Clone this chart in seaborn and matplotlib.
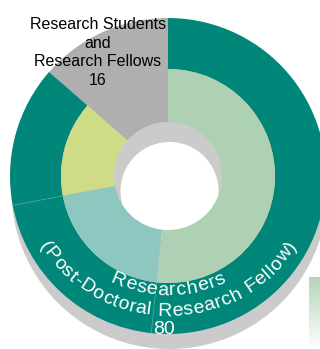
import numpy as np
import matplotlib
matplotlib.use("Agg")
import matplotlib.pyplot as plt
import seaborn as sns
from matplotlib import font_manager as fm
from matplotlib.font_manager import FontProperties, get_font, findfont
from matplotlib.colors import LinearSegmentedColormap

# ---------------- data ----------------
group_labels = ["Research Students\nand\nResearch Fellows", "Researchers", "(Post-Doctoral Research Fellow)"]
group_counts = [16, 80]
# inner ring segments, counter-clockwise from 12 o'clock
segment_values = [16, 17, 24, 61]
segment_group = [0, 1, 1, 1]
segment_colors = ["#AFAFAF", "#CFDC86", "#8EC6C0", "#AED1B4"]
group_colors = ["#AFAFAF", "#00877A"]
shadow_color = "#CBCBCB"

# ---------------- style ----------------
sns.set_theme(style="white")
names = {f.name for f in fm.fontManager.ttflist}
narrow = "Liberation Sans Narrow" if "Liberation Sans Narrow" in names else "Liberation Sans"
plt.rcParams['font.family'] = ['Liberation Sans', 'DejaVu Sans']

W, H = 320, 349
DPI = 100
fig = plt.figure(figsize=(W / DPI, H / DPI), dpi=DPI)
ax = fig.add_axes([0, 0, 1, 1])

cx, cy = 168, H - 176
R_out, R_mid, R_in = 158, 107, 54
total = sum(segment_values)

# drop shadow
ax.pie([total], colors=[shadow_color], radius=R_out, center=(cx + 1.5, cy - 15),
       startangle=90, wedgeprops=dict(width=R_out - 49, linewidth=0))
# outer ring (groups)
outer_colors = [group_colors[g] for g in segment_group]
ax.pie(segment_values, colors=outer_colors, radius=R_out, center=(cx, cy),
       startangle=90, wedgeprops=dict(width=R_out - R_mid, linewidth=0))
# inner ring (segments)
ax.pie(segment_values, colors=segment_colors, radius=R_mid, center=(cx, cy),
       startangle=90, wedgeprops=dict(width=R_mid - R_in, linewidth=0))

# faint boundaries between segments of the same group in the outer ring
cum = np.cumsum(segment_values)
for i in range(len(segment_values) - 1):
    if segment_group[i] == segment_group[i + 1]:
        th = np.deg2rad(90 + 360 * cum[i] / total)
        ax.plot([cx + R_mid * np.cos(th), cx + R_out * np.cos(th)],
                [cy + R_mid * np.sin(th), cy + R_out * np.sin(th)],
                color="#4FA89C", lw=0.6, alpha=0.8, zorder=3)


# ---------------- curved text ----------------
def advances(s, family, size_pt):
    prop = FontProperties(family=family, size=size_pt)
    font = get_font(findfont(prop))
    font.set_size(size_pt, DPI)
    out = []
    for ch in s:
        g = font.load_char(ord(ch))
        out.append(g.linearHoriAdvance / 65536.0)
    return out


def arc_text(s, tcx, tcy, r, center_deg, size_pt, spacing, color):
    adv = advances(s, 'Liberation Sans', size_pt)
    tot = sum(adv) + spacing * (len(s) - 1)
    start = center_deg - np.rad2deg(tot / 2 / r)
    pos = 0.0
    for ch, a in zip(s, adv):
        th = start + np.rad2deg((pos + a / 2) / r)
        t = np.deg2rad(th)
        ax.text(tcx + r * np.cos(t), tcy + r * np.sin(t), ch, color=color,
                fontsize=size_pt, family='Liberation Sans', rotation=th + 90,
                rotation_mode='anchor', ha='center', va='baseline', zorder=5)
        pos += a + spacing


tcx, tcy = 168, H - 162
arc_text(group_labels[1], tcx, tcy, 133, 270, 14, 1.0, "white")
arc_text(group_labels[2], tcx, tcy, 154, 270, 14, 0.8, "white")
ax.text(164, H - 334, str(group_counts[1]), color="white", fontsize=14,
        family='Liberation Sans', ha='center', va='baseline', zorder=5)

# label of students group
ax.text(98, H - 17, group_labels[0] + "\n" + str(group_counts[0]), color="black",
        fontsize=13 if narrow != "Liberation Sans" else 11.5, family=narrow,
        ha='center', va='top', linespacing=1.3, zorder=5)

# partial legend swatch at the bottom right
grad = np.linspace(1, 0, 60).reshape(-1, 1)
cmap = LinearSegmentedColormap.from_list('g', ['#FFFFFF', '#B5D5BA'])
ax.imshow(grad, extent=(309, 321, 0, H - 277), cmap=cmap, aspect='auto', zorder=0)

ax.set_xlim(0, W)
ax.set_ylim(0, H)
ax.set_aspect('auto')
ax.set_axis_off()
fig.savefig("out.png", dpi=DPI)
